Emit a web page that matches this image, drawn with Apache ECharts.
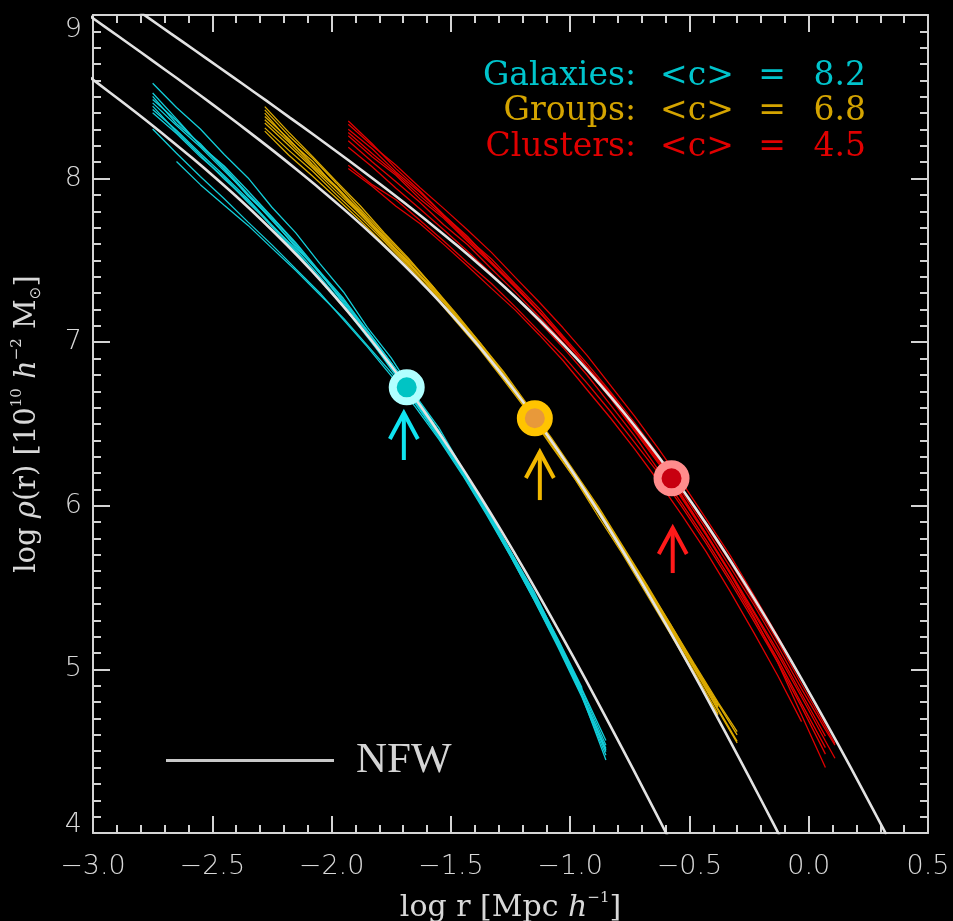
<!DOCTYPE html>
<html>
<head>
<meta charset="utf-8">
<script src="https://cdn.jsdelivr.net/npm/echarts/dist/echarts.min.js"></script>
<style>
  html, body { margin: 0; padding: 0; background: #000; }
  #chart { width: 953px; height: 921px; }
</style>
</head>
<body>
<div id="chart"></div>
<script>
// ---- density profiles: log r [Mpc/h] vs log rho(r) [1e10 h^-2 Msun] ----

// NFW fits
const nfwGalaxyR = [-3.085, -2.985, -2.885, -2.785, -2.685, -2.585, -2.485, -2.385, -2.285, -2.185, -2.085, -1.985, -1.885, -1.785, -1.685, -1.585, -1.485, -1.385, -1.285, -1.185, -1.085, -0.985, -0.885, -0.785, -0.685, -0.585];
const nfwGalaxyRho = [8.696, 8.588, 8.477, 8.364, 8.247, 8.127, 8.002, 7.872, 7.735, 7.591, 7.439, 7.277, 7.105, 6.922, 6.728, 6.522, 6.305, 6.077, 5.839, 5.591, 5.335, 5.072, 4.802, 4.527, 4.247, 3.964];

const nfwGroupR = [-3.048, -2.948, -2.848, -2.748, -2.648, -2.548, -2.448, -2.348, -2.248, -2.148, -2.048, -1.948, -1.848, -1.748, -1.648, -1.548, -1.448, -1.348, -1.248, -1.148, -1.048, -0.948, -0.848, -0.748, -0.648, -0.548, -0.448, -0.348, -0.248, -0.148, -0.048];
const nfwGroupRho = [9.029, 8.926, 8.823, 8.718, 8.613, 8.506, 8.398, 8.287, 8.174, 8.057, 7.937, 7.812, 7.682, 7.545, 7.401, 7.249, 7.087, 6.915, 6.732, 6.538, 6.332, 6.115, 5.887, 5.649, 5.401, 5.145, 4.882, 4.612, 4.337, 4.057, 3.774];

const nfwClusterR = [-2.875, -2.775, -2.675, -2.575, -2.475, -2.375, -2.275, -2.175, -2.075, -1.975, -1.875, -1.775, -1.675, -1.575, -1.475, -1.375, -1.275, -1.175, -1.075, -0.975, -0.875, -0.775, -0.675, -0.575, -0.475, -0.375, -0.275, -0.175, -0.075, 0.025, 0.125, 0.225, 0.325];
const nfwClusterRho = [9.091, 8.990, 8.888, 8.786, 8.684, 8.581, 8.478, 8.373, 8.268, 8.161, 8.053, 7.942, 7.829, 7.712, 7.592, 7.467, 7.337, 7.200, 7.056, 6.904, 6.742, 6.570, 6.387, 6.193, 5.987, 5.770, 5.542, 5.304, 5.056, 4.800, 4.537, 4.267, 3.992];

// simulated halo profiles, galaxies
const galaxyR = [-2.75, -2.65, -2.55, -2.45, -2.35, -2.25, -2.15, -2.05, -1.95, -1.85, -1.75, -1.65, -1.55, -1.45, -1.35, -1.25, -1.15, -1.05, -0.95, -0.85];
const galaxyProfiles = [
  [8.583, 8.435, 8.303, 8.147, 8.004, 7.825, 7.668, 7.482, 7.307, 7.091, 6.904, 6.676, 6.476, 6.225, 5.984, 5.722, 5.472, 5.173, 4.878],
  [8.463, 8.325, 8.193, 8.047, 7.904, 7.745, 7.588, 7.422, 7.247, 7.071, 6.874, 6.666, 6.446, 6.215, 5.974, 5.722, 5.452, 5.173, 4.878, 4.566],
  [8.503, 8.335, 8.213, 8.057, 7.894, 7.755, 7.578, 7.432, 7.237, 7.061, 6.864, 6.656, 6.456, 6.205, 5.964, 5.702, 5.442, 5.153, 4.848, 4.506],
  [8.423, 8.295, 8.153, 8.017, 7.874, 7.715, 7.568, 7.402, 7.227, 7.041, 6.844, 6.646, 6.426, 6.205, 5.954, 5.702, 5.432, 5.153, 4.858],
  [8.523, 8.365, 8.203, 8.067, 7.904, 7.765, 7.598, 7.422, 7.257, 7.061, 6.874, 6.666, 6.446, 6.225, 5.974, 5.712, 5.452, 5.163, 4.868, 4.536],
  [8.443, 8.285, 8.143, 7.997, 7.864, 7.705, 7.548, 7.392, 7.217, 7.031, 6.844, 6.636, 6.416, 6.195, 5.954, 5.692, 5.422, 5.133, 4.828, 4.476],
  [8.303, 8.155, 8.013, 7.877, 7.734, 7.595, 7.448, 7.302, 7.137, 6.971, 6.794, 6.606, 6.406, 6.185, 5.944, 5.692, 5.422, 5.143, 4.838, 4.446],
  [null, 8.105, 7.963, 7.837, 7.714, 7.575, 7.438, 7.292, 7.147, 6.981, 6.814, 6.626, 6.416, 6.205, 5.964, 5.712, 5.442, 5.153, 4.848, 4.516],
  [8.483, 8.355, 8.203, 8.077, 7.924, 7.765, 7.608, 7.432, 7.267, 7.071, 6.874, 6.676, 6.456, 6.225, 5.984, 5.722, 5.462, 5.183, 4.888],
  [8.403, 8.275, 8.133, 8.007, 7.854, 7.715, 7.558, 7.382, 7.217, 7.041, 6.834, 6.636, 6.436, 6.195, 5.964, 5.702, 5.432, 5.143, 4.838, 4.496]
];

// simulated halo profiles, groups
const groupR = [-2.28, -2.18, -2.08, -1.98, -1.88, -1.78, -1.68, -1.58, -1.48, -1.38, -1.28, -1.18, -1.08, -0.98, -0.88, -0.78, -0.68, -0.58, -0.48, -0.38, -0.30];
const groupProfiles = [
  [8.440, 8.284, 8.136, 7.982, 7.834, 7.669, 7.517, 7.348, 7.179, 7.000, 6.821, 6.620, 6.418, 6.205, 5.990, 5.755, 5.521, 5.277, 5.026, 4.779],
  [8.360, 8.224, 8.076, 7.942, 7.784, 7.639, 7.487, 7.328, 7.159, 6.990, 6.801, 6.600, 6.408, 6.185, 5.970, 5.745, 5.511, 5.267, 5.026, 4.789, 4.600],
  [8.400, 8.234, 8.106, 7.942, 7.804, 7.639, 7.497, 7.318, 7.169, 6.980, 6.801, 6.590, 6.398, 6.175, 5.960, 5.735, 5.491, 5.257, 5.006, 4.759, 4.560],
  [8.310, 8.174, 8.046, 7.902, 7.764, 7.619, 7.467, 7.308, 7.149, 6.970, 6.781, 6.590, 6.378, 6.165, 5.950, 5.715, 5.481, 5.237, 4.986, 4.729],
  [8.420, 8.264, 8.126, 7.972, 7.814, 7.659, 7.507, 7.348, 7.169, 7.000, 6.811, 6.610, 6.408, 6.195, 5.980, 5.745, 5.511, 5.277, 5.036, 4.799, 4.620],
  [8.290, 8.144, 8.016, 7.882, 7.744, 7.599, 7.457, 7.298, 7.129, 6.960, 6.771, 6.580, 6.368, 6.165, 5.930, 5.705, 5.461, 5.217, 4.966, 4.719],
  [8.340, 8.204, 8.066, 7.922, 7.784, 7.629, 7.477, 7.328, 7.159, 6.980, 6.791, 6.610, 6.398, 6.185, 5.970, 5.725, 5.501, 5.247, 5.006, 4.749, 4.550],
  [8.380, 8.244, 8.086, 7.952, 7.794, 7.649, 7.487, 7.338, 7.159, 6.990, 6.801, 6.610, 6.388, 6.185, 5.960, 5.735, 5.501, 5.257, 5.016, 4.769]
];

// simulated halo profiles, clusters
const clusterR = [-1.93, -1.83, -1.73, -1.63, -1.53, -1.43, -1.33, -1.23, -1.13, -1.03, -0.93, -0.83, -0.73, -0.63, -0.53, -0.43, -0.33, -0.23, -0.13, -0.03, 0.07, 0.11];
const clusterProfiles = [
  [8.332, 8.203, 8.081, 7.946, 7.818, 7.686, 7.549, 7.396, 7.246, 7.088, 6.921, 6.735, 6.548, 6.350, 6.140, 5.920, 5.698, 5.455, 5.203, 4.941, 4.672],
  [8.262, 8.133, 8.021, 7.876, 7.758, 7.616, 7.479, 7.336, 7.186, 7.028, 6.851, 6.685, 6.488, 6.290, 6.080, 5.860, 5.628, 5.395, 5.143, 4.881, 4.632, 4.537],
  [8.352, 8.213, 8.061, 7.926, 7.778, 7.646, 7.489, 7.346, 7.186, 7.028, 6.851, 6.675, 6.478, 6.280, 6.060, 5.830, 5.588, 5.325, 5.043, 4.721, 4.400],
  [8.082, 7.963, 7.871, 7.746, 7.618, 7.486, 7.359, 7.216, 7.066, 6.918, 6.751, 6.575, 6.388, 6.200, 5.990, 5.770, 5.538, 5.295, 5.043, 4.771, 4.482],
  [8.232, 8.103, 7.981, 7.856, 7.718, 7.596, 7.449, 7.306, 7.156, 6.998, 6.831, 6.655, 6.458, 6.260, 6.040, 5.820, 5.588, 5.345, 5.093, 4.831, 4.562, 4.457],
  [8.302, 8.183, 8.041, 7.916, 7.778, 7.636, 7.509, 7.356, 7.206, 7.038, 6.871, 6.695, 6.508, 6.310, 6.100, 5.880, 5.658, 5.415, 5.173, 4.911, 4.652, 4.547],
  [8.062, 7.953, 7.831, 7.726, 7.598, 7.466, 7.329, 7.196, 7.046, 6.888, 6.711, 6.535, 6.348, 6.150, 5.940, 5.720, 5.478, 5.225, 4.963, 4.681],
  [8.192, 8.073, 7.941, 7.816, 7.688, 7.556, 7.419, 7.276, 7.126, 6.968, 6.801, 6.615, 6.428, 6.220, 6.010, 5.790, 5.558, 5.315, 5.063, 4.791, 4.522],
  [8.282, 8.153, 8.031, 7.896, 7.768, 7.626, 7.489, 7.336, 7.186, 7.018, 6.851, 6.665, 6.468, 6.270, 6.050, 5.830, 5.598, 5.355, 5.113, 4.851, 4.592]
];

// scale radius r_s of each mean profile, and the arrows marking it
const scaleRadiusR = [-1.685, -1.148, -0.575];
const scaleRadiusRho = [6.724, 6.535, 6.168];
const arrowR = [-1.697, -1.127, -0.570];
const arrowTipRho = [6.567, 6.329, 5.864];
const arrowTailRho = [6.280, 6.035, 5.589];

// sample labels and mean concentrations
const sampleNames = ['Galaxies:', 'Groups:', 'Clusters:'];
const meanConcentration = ['8.2', '6.8', '4.5'];

// tick labels
const xTicks = [-3.0, -2.5, -2.0, -1.5, -1.0, -0.5, 0.0, 0.5];
const yTicks = [4, 5, 6, 7, 8, 9];

// colours
const lineColors = ['#12cdd8', '#dcaa00', '#e00000'];
const textColors = ['#00c4cc', '#d4a400', '#e00000'];
const arrowColors = ['#10e4f0', '#f2b800', '#ff1a1a'];
const markerFill = ['#00c4c4', '#e8993a', '#c80010'];
const markerRing = ['#b0ffff', '#ffc400', '#ff8c8c'];
const nfwColor = '#e2e2e2';
const axisColor = '#d4d4d4';
const labelColor = '#d8d8d8';

// ---- build the series ----
function pairs(xs, ys) {
  const out = [];
  for (let i = 0; i < ys.length; i++) out.push([xs[i], ys[i] === null ? '-' : ys[i]]);
  return out;
}

function profileSeries(xs, profiles, color) {
  return profiles.map(ys => ({
    type: 'line',
    data: pairs(xs, ys),
    symbol: 'none',
    silent: true,
    z: 2,
    lineStyle: { color: color, width: 1.3 }
  }));
}

function nfwSeries(xs, ys) {
  return {
    name: 'NFW',
    type: 'line',
    data: pairs(xs, ys),
    symbol: 'none',
    smooth: 0.3,
    silent: true,
    z: 3,
    color: nfwColor,
    lineStyle: { color: nfwColor, width: 2.6 }
  };
}

const series = [].concat(
  profileSeries(galaxyR, galaxyProfiles, lineColors[0]),
  profileSeries(groupR, groupProfiles, lineColors[1]),
  profileSeries(clusterR, clusterProfiles, lineColors[2]),
  [
    nfwSeries(nfwGalaxyR, nfwGalaxyRho),
    nfwSeries(nfwGroupR, nfwGroupRho),
    nfwSeries(nfwClusterR, nfwClusterRho),
    {
      type: 'custom',
      silent: true,
      z: 4,
      data: arrowR.map((r, i) => [r, arrowTipRho[i], arrowTailRho[i], i]),
      renderItem: function (params, api) {
        const tip = api.coord([api.value(0), api.value(1)]);
        const tail = api.coord([api.value(0), api.value(2)]);
        const c = arrowColors[api.value(3)];
        const st = { stroke: c, lineWidth: 4, fill: null, lineCap: 'butt', lineJoin: 'miter' };
        return {
          type: 'group',
          children: [
            { type: 'polyline', shape: { points: [tail, tip] }, style: st },
            { type: 'polyline', shape: { points: [[tip[0] - 14, tip[1] + 26], tip, [tip[0] + 14, tip[1] + 26]] }, style: st }
          ]
        };
      }
    },
    {
      type: 'scatter',
      silent: true,
      z: 5,
      symbol: 'circle',
      symbolSize: 28,
      data: scaleRadiusR.map((r, i) => ({
        value: [r, scaleRadiusRho[i]],
        itemStyle: { color: markerFill[i], borderColor: markerRing[i], borderWidth: 8, opacity: 1 }
      }))
    }
  ]
);

// ---- axes ----
const tickFont = { fontFamily: 'DejaVu Sans', fontSize: 27, fontWeight: 200, color: labelColor };
const fmtMinus = v => (v < 0 ? '\u2212' : '') + Math.abs(v).toFixed(1);

function xAxisDef(pos, withLabels) {
  return {
    type: 'value', position: pos, min: xTicks[0], max: xTicks[xTicks.length - 1], interval: 0.5,
    axisLine: { show: true, onZero: false, lineStyle: { color: axisColor, width: 2 } },
    axisTick: { show: true, inside: true, length: 17, lineStyle: { color: axisColor, width: 2 } },
    minorTick: { show: true, splitNumber: 5, length: 8, lineStyle: { color: axisColor, width: 2 } },
    splitLine: { show: false }, minorSplitLine: { show: false },
    axisLabel: Object.assign({ show: withLabels, margin: 20, formatter: fmtMinus }, tickFont),
    name: withLabels ? '{a|log r [Mpc }{i|h}{s|\u22121}{a|]}' : '',
    nameLocation: 'middle', nameGap: 58,
    nameTextStyle: {
      color: labelColor, fontFamily: 'DejaVu Serif', fontSize: 30,
      rich: {
        a: { fontSize: 30, lineHeight: 34, color: labelColor, fontFamily: 'DejaVu Serif', verticalAlign: 'middle' },
        i: { fontSize: 30, lineHeight: 34, color: labelColor, fontFamily: 'DejaVu Serif', fontStyle: 'italic', verticalAlign: 'middle' },
        s: { fontSize: 15, lineHeight: 15, color: labelColor, fontFamily: 'DejaVu Serif', verticalAlign: 'top' }
      }
    }
  };
}

function yAxisDef(pos, withLabels) {
  return {
    type: 'value', position: pos, min: yTicks[0], max: yTicks[yTicks.length - 1], interval: 1,
    axisLine: { show: true, onZero: false, lineStyle: { color: axisColor, width: 2 } },
    axisTick: { show: true, inside: true, length: 17, lineStyle: { color: axisColor, width: 2 } },
    minorTick: { show: true, splitNumber: 10, length: 8, lineStyle: { color: axisColor, width: 2 } },
    splitLine: { show: false }, minorSplitLine: { show: false },
    axisLabel: Object.assign({
      show: withLabels, margin: 11,
      formatter: v => v === yTicks[yTicks.length - 1] ? '{t|' + v + '}' : (v === yTicks[0] ? '{b|' + v + '}' : String(v)),
      rich: {
        t: { fontFamily: 'DejaVu Sans', fontSize: 27, fontWeight: 200, color: labelColor, padding: [30, 0, 0, 0] },
        b: { fontFamily: 'DejaVu Sans', fontSize: 27, fontWeight: 200, color: labelColor, padding: [0, 0, 16, 0] }
      }
    }, tickFont),
    name: withLabels ? '{a|log }{i|\u03c1}{a|(r) [10}{s|10}{a| }{i|h}{s|\u22122}{a| M}{u|\u2299}{a|]}' : '',
    nameLocation: 'middle', nameGap: 49, nameRotate: 90,
    nameTextStyle: {
      color: labelColor, fontFamily: 'DejaVu Serif', fontSize: 29,
      rich: {
        a: { fontSize: 29, lineHeight: 34, color: labelColor, fontFamily: 'DejaVu Serif', verticalAlign: 'middle' },
        i: { fontSize: 29, lineHeight: 34, color: labelColor, fontFamily: 'DejaVu Serif', fontStyle: 'italic', verticalAlign: 'middle' },
        s: { fontSize: 15, lineHeight: 15, color: labelColor, fontFamily: 'DejaVu Serif', verticalAlign: 'top' },
        u: { fontSize: 15, lineHeight: 15, color: labelColor, fontFamily: 'DejaVu Sans', verticalAlign: 'bottom' }
      }
    }
  };
}

// ---- sample labels (right-aligned columns) ----
const graphic = [];
sampleNames.forEach((name, i) => {
  const y = 76 + i * 35.5;
  const base = { fill: textColors[i], fontFamily: 'DejaVu Serif', fontSize: 33, verticalAlign: 'middle' };
  graphic.push({ type: 'text', x: 636, y: y, silent: true, style: Object.assign({ text: name, align: 'right' }, base) });
  graphic.push({ type: 'text', x: 697, y: y, silent: true, style: Object.assign({ text: '<c>', align: 'center' }, base) });
  graphic.push({ type: 'text', x: 772, y: y, silent: true, style: Object.assign({ text: '=', align: 'center' }, base) });
  graphic.push({ type: 'text', x: 866, y: y, silent: true, style: Object.assign({ text: meanConcentration[i], align: 'right' }, base) });
});

const chart = echarts.init(document.getElementById('chart'), null, { renderer: 'canvas' });
chart.setOption({
  backgroundColor: '#000',
  animation: false,
  grid: { left: 93, right: 25, top: 15, bottom: 88, containLabel: false, outerBoundsMode: 'none' },
  xAxis: [xAxisDef('bottom', true), xAxisDef('top', false)],
  yAxis: [yAxisDef('left', true), yAxisDef('right', false)],
  legend: {
    show: true,
    data: ['NFW'],
    left: 161, top: 734,
    orient: 'horizontal',
    icon: 'rect',
    itemWidth: 168, itemHeight: 3,
    itemStyle: { color: '#c8c8c8' },
    selectedMode: false,
    textStyle: { color: '#d4d4d4', fontFamily: 'Liberation Serif', fontSize: 43, padding: [0, 0, 0, 17] }
  },
  graphic: graphic,
  series: series
});
</script>
</body>
</html>
